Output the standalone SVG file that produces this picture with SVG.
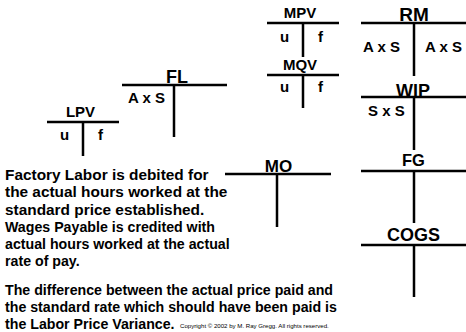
<svg xmlns="http://www.w3.org/2000/svg" width="466" height="332" viewBox="0 0 466 332">
<style>
.ln{stroke:#000;stroke-width:2.5;fill:none}
.h{font-family:"Liberation Sans",Arial,sans-serif;font-weight:bold;fill:#000;text-anchor:middle}
.t{font-family:"Liberation Sans",Arial,sans-serif;font-weight:bold;font-size:15px;fill:#000}
.p{font-family:"Liberation Sans",Arial,sans-serif;font-weight:bold;fill:#000}
.p1{font-size:15.4px}
.p2{font-size:14.2px}
.c{font-family:"Liberation Sans",Arial,sans-serif;font-size:6.1px;fill:#000}
</style>
<rect width="466" height="332" fill="#fff"/>
<g id="connectors">
</g>
<g id="LPV">
<path class="ln" d="M47 122H119M83 122V156"/>
<text class="h" x="80.5" y="117" font-size="15">LPV</text>
<text class="t" x="60" y="140">u</text>
<text class="t" x="98" y="140">f</text>
</g>
<g id="FL">
<path class="ln" d="M122 85H227M174 85V137"/>
<text class="h" x="177" y="83" font-size="18">FL</text>
<text class="t" x="128" y="103">A x S</text>
</g>
<g id="MPV">
<path class="ln" d="M267 23H339M303 23V57"/>
<text class="h" x="300" y="18" font-size="15">MPV</text>
<text class="t" x="280" y="42">u</text>
<text class="t" x="318" y="42">f</text>
</g>
<g id="MQV">
<path class="ln" d="M267 75H339M303 75V108"/>
<text class="h" x="300" y="70" font-size="15">MQV</text>
<text class="t" x="280" y="92">u</text>
<text class="t" x="318" y="92">f</text>
</g>
<g id="RM">
<path class="ln" d="M361 23H466M414 23V76"/>
<text class="h" x="414" y="21" font-size="19">RM</text>
<text class="t" x="363" y="52">A x S</text>
<text class="t" x="425" y="52">A x S</text>
</g>
<g id="WIP">
<path class="ln" d="M361 97H466M414 97V150"/>
<text class="h" x="413" y="97" font-size="18">WIP</text>
<text class="t" x="368" y="116">S x S</text>
</g>
<g id="FG">
<path class="ln" d="M361 171H466M414 171V223"/>
<text class="h" x="413.5" y="166" font-size="16.5">FG</text>
</g>
<g id="COGS">
<path class="ln" d="M361 245H466M414 245V297"/>
<text class="h" x="413.5" y="241" font-size="18">COGS</text>
</g>
<g id="MO">
<path class="ln" d="M225 174H331M277 174V227"/>
<text class="h" x="278.5" y="172" font-size="17">MO</text>
</g>
<g id="notes">
<text class="p p1" x="5" y="180">Factory Labor is debited for</text>
<text class="p p1" x="5" y="197">the actual hours worked at the</text>
<text class="p p1" x="5" y="215">standard price established.</text>
<text class="p p2" x="5" y="232">Wages Payable is credited with</text>
<text class="p p2" x="5" y="249">actual hours worked at the actual</text>
<text class="p p2" x="5" y="266">rate of pay.</text>
<text class="p p2" x="5" y="295">The difference between the actual price paid and</text>
<text class="p p2" x="5" y="312">the standard rate which should have been paid is</text>
<text class="p p2" x="5" y="329">the Labor Price Variance.</text>
<text class="c" x="180" y="328">Copyright © 2002 by M. Ray Gregg.  All rights reserved.</text>
</g>
</svg>
